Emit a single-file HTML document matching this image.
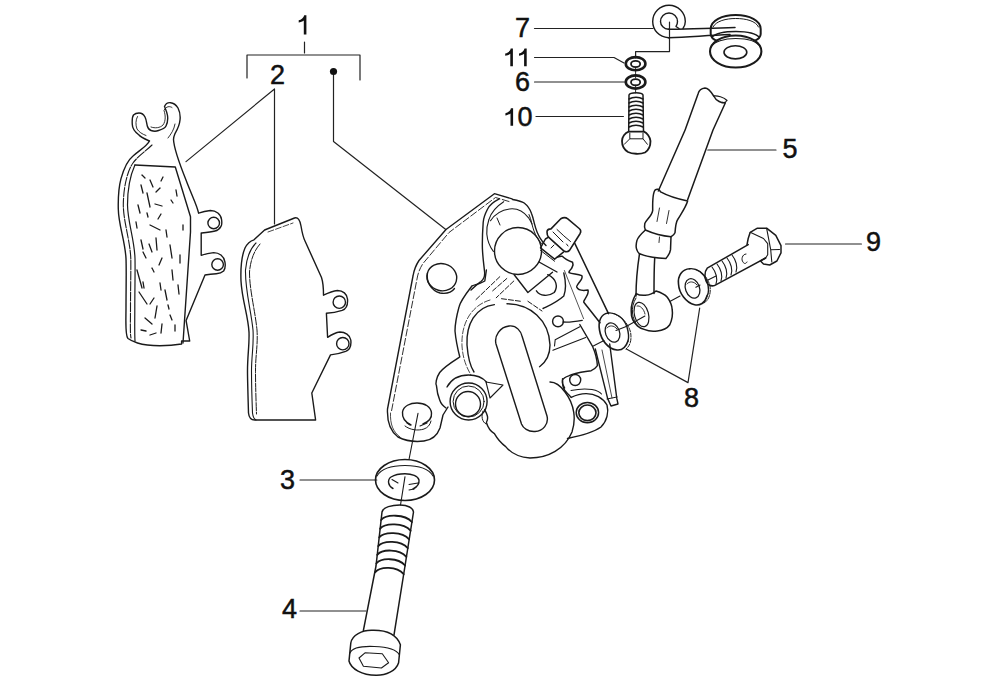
<!DOCTYPE html>
<html><head><meta charset="utf-8">
<style>
html,body{margin:0;padding:0;background:#fff;width:1000px;height:683px;overflow:hidden}
svg{display:block}
text{font-family:"Liberation Sans",sans-serif;font-size:27px;fill:#111;stroke:#111;stroke-width:0.5}
</style></head><body>
<svg width="1000" height="683" viewBox="0 0 1000 683">
<g fill="none" stroke="#222" stroke-width="1.2" stroke-linecap="round" stroke-linejoin="round">
<!-- labels group leaders -->
<path d="M247,78 V55 H360 V80"/>
<path d="M304.5,42 V53"/>
<path d="M333.5,71 V141.5 L445.8,229.5"/>
<path d="M186,161.6 L274.5,89 V224"/>
<path d="M534.5,28.5 H653"/>
<path d="M669.5,22 V51.6 H635.6 V58"/>
<path d="M534.5,57.5 L614,57.5 L624,63"/>
<path d="M534.5,82 H624.5"/>
<path d="M536,116.5 H623.4"/>
<path d="M707.8,150 H776"/>
<path d="M785.5,244 H861.4"/>
<path d="M626.4,349 L688,382.6 L699.7,308"/>
<path d="M300,480 H376.8"/>
<path d="M300,611 H366"/>
</g>

<!-- LEFT PAD -->
<g fill="none" stroke="#1a1a1a" stroke-width="1.4" stroke-linejoin="round" stroke-linecap="round">
<path d="M149.5,141 C145,139 141,137.5 139,135 C135,132 132.3,128 132.3,124.5 C132,120 132,117 133.5,115 C135,113.5 137,113 139,113 C142,113 144,115 145,117 C146.5,120 146.5,123 147.3,126 C148,128.5 149.5,130 151,130.5 C154,131.5 156,131.5 158.5,130.5 C162,129.5 165,128 166,126 C167.5,123 168,119 167.5,115.5 C167,112 165.5,109 164.5,106.5 C165.5,104 168,102.5 170.5,102.7 C174,103 176.5,105.5 178,108 C180,112 180.5,116 180,120 C179.5,126 177,130 175,133.5 C174,136 173.5,138 173.5,139.5 C174,150 180,165 186,180 C192,196 197,205 198.6,213.2 C202,212 206,211 210.4,210.5 C216,210.5 221,214 221.6,219.7 C222,223 222,225 221,226.3 C219.5,229 217.5,230.5 215,231 C211,232 206,232.5 201.2,233 L201.2,255.3 C205,254 209,253 213.7,252.6 C219,252.6 224,256 224.9,261.8 C225.5,265 225,269 223.6,271 C222,272.5 219,273.5 216.3,273.7 C212,274 208,274.5 205,275 L186.1,320.6 L189.7,341 L181.6,341 L181.6,344 C170,346 150,347 137.5,343 C133,341.5 130,340 128,338.5 C125,336 126,320 126,308 C126,290 126.5,270 126,258.5 C125,240 118.5,225 118.3,209 C118,196 119,186 121,178.6 C124,168 128,160 133,156 C140,150 147,146 149.5,141 Z"/>
<path d="M152,145 C146,151 138,156 133,163 C128,170 123.5,185 123.3,205 C123.5,222 130,240 130.8,258.5 C131,270 130.5,290 130.5,308 C130.5,322 130,334 131,338" stroke-width="1.1" stroke-dasharray="9 1.5"/>
<path d="M134.9,165 L175.3,167 L190.5,216.7 L190.5,232 L183,343"/>
<path d="M134.9,165 C130,176 127.5,190 127.5,205 C127.7,222 134.5,240 135,258.5 C135.3,270 134.8,290 134.8,308 C134.8,322 134.5,334 135,341" stroke-width="1.2"/>
<circle cx="213.7" cy="223" r="5.8"/>
<circle cx="217.6" cy="264.5" r="5.8"/>
<path d="M151,127 C155,128.5 160,128 163,125 C166,121 165.5,115 164,110.5 C166,106 170,106 172,107.5" stroke-width="0.9"/>
<path d="M137.5,116.5 C135.5,120 135.5,125 137,129 C139,132 142,134 146,135.5 M175,124 C174,130 171,134 168,138" stroke-width="0.9"/>
<g stroke-width="1.3">
<path d="M150,180 l3,7"/>
<path d="M141,185 l2,8"/>
<path d="M147,193 l3,14"/>
<path d="M156,192 l4,-4"/>
<path d="M155,204 l7,2"/>
<path d="M138,205 l2,8"/>
<path d="M161,214 l-3,5"/>
<path d="M147,213 l1,4"/>
<path d="M150,225 l10,5"/>
<path d="M166,230 l1,7"/>
<path d="M156,238 l1,12"/>
<path d="M149,244 l3,8"/>
<path d="M170,245 l2,13"/>
<path d="M143,252 l3,6"/>
<path d="M137,270 l5,18"/>
<path d="M152,268 l2,4"/>
<path d="M160,283 l1,7"/>
<path d="M139,292 l8,12"/>
<path d="M165,290 l2,10"/>
<path d="M154,298 l-4,6"/>
<path d="M145,318 l7,6"/>
<path d="M141,330 l5,1"/>
<path d="M162,324 l-1,9"/>
<path d="M170,315 l2,5"/>
<path d="M157,306 l-2,12"/>
<path d="M172,270 l1,10"/>
<path d="M176,190 l1,6"/>
<path d="M142,175 l3,3"/>
<path d="M163,177 l-2,4"/>
<path d="M180,255 l0,8"/>
<path d="M178,285 l1,9"/>
<path d="M175,325 l0,6"/>
<path d="M141,240 l2,9"/>
<path d="M162,258 l-3,7"/>
<path d="M150,335 l6,-2"/>
<path d="M168,305 l1,4"/>
<path d="M143,282 l1,6"/>
<path d="M183,225 l0,5"/>
<path d="M136,222 l1,6"/>
<path d="M171,200 l2,3"/>
</g>
</g>
<!-- MID PAD -->
<g fill="none" stroke="#1a1a1a" stroke-width="1.4" stroke-linejoin="round" stroke-linecap="round">
<path d="M294.5,218 C298,217 300,220 301,226 C302,232 303,237 305,241 L321.5,277.5 C323,282 323.5,289 323.5,295.2 C328,293 333,291 337.5,290.5 C343,290.5 347,294 347.5,299 C348,305 346,309 342.2,310.4 C337,312 331,313 326.4,313.3 L327.6,337.3 C331,335 336,332.5 339.9,332 C345,332 350,335 350.8,340 C351.5,346 349,350 345.7,351.3 C341,353 335,354.5 330.5,354.9 L311.8,393 L315.6,420 L254.7,420 C251,420 249,418 248.5,413 C248,395 247.5,380 247.5,371 C247.5,355 249.5,345 249,332 C248,315 242,300 241,281 C240.5,268 242,255 245,248 C247,244 250,241 254,239.8 L264.6,230 Z"/>
<path d="M268,232 L293,223" stroke-width="0.8" stroke-dasharray="6 2"/>
<path d="M256,243 C250,249 246.5,258 245.5,270 C245,290 251,310 253,330 C254,345 251.5,355 251.5,371 C251.5,385 252,400 252.5,413 C253,417 254,419 256,420" stroke-width="1.1"/>
<path d="M260,244 C254,251 250.5,260 249.5,272 C249.5,290 255,310 257,330 C258,345 255.5,355 255.5,371 C255.5,385 256,400 256.5,414" stroke-width="1" stroke-dasharray="8 1.5"/>
<circle cx="339.3" cy="302.2" r="6.2"/>
<circle cx="342.8" cy="343.7" r="6.2"/>
</g>

<!-- CALIPER -->
<g fill="none" stroke="#1a1a1a" stroke-width="1.4" stroke-linejoin="round" stroke-linecap="round">
<!-- bracket plate -->
<path d="M512,198.8 L494.4,193.7 L446,229.5 L419,260.5 C416,265 414,270 413,276 L387.5,409 C387,420 390,431 398,437 C406,441 416,442 424,441 C432,440 437,436 440,428 L443,415 L448,407"/>
<path d="M509,201.5 L495.5,197.5 L449,232.5 L423,263.5 C420,268 418,273 417,279 L391.5,411" stroke-width="0.9" stroke-dasharray="7 2.5"/>
<path d="M390.5,413 C390,424 393,432 400,437" stroke-width="0.8"/>
<ellipse cx="441.8" cy="277.2" rx="15" ry="13.5" transform="rotate(15 441.8 277.2)"/>
<path d="M427.5,273 C426,282 431,290.5 440,293 C447,294 452,292 454.5,288.5" stroke-width="1.3"/>
<path d="M411,425 C405,422 402,417 402.5,412 C403.5,406 410,403 417,403 C425,403 431,407 431.5,413 C432,418 428,422 423,424" />
<path d="M405,426 C410,430 418,431 424,429 C428,427.5 430,425 431,421" stroke-width="1"/>
<path d="M407,423 L410,425 M420,426 L427,423" stroke-width="1.1"/>
<!-- upper slide pin housing -->
<path d="M512.5,199.5 C518,200.5 522,201.5 524.2,203 C528,206 530,209 531.5,213.4 C533,217 533.5,220 534.4,223.7 C536,230 538,235 540.3,238.3 C542,241 544,243.5 546,245.6"/>
<path d="M529,214.5 C531.5,220 532,226 534,231 C536,236 538,240 541.5,243.5" stroke-width="1"/>
<path d="M499.3,198.8 C493,202 489,206 487.6,209 C485,214 483.5,218 483.2,222.2 C482.5,232 482.2,240 482.4,248.6 C482.8,258 484,266 484.6,272 C485,276 484,279 481,281.5 C479,283 476,285 471,290"/>
<path d="M503.7,201.7 C497,206 491,213 489,219.3 C487,225 486.5,230 486.8,234 C487.5,242 490,247 493.4,251.5" stroke-width="1.1"/>
<path d="M490.5,220.7 C495,214 502,210 509.5,209 C517,208 524,212 528.6,217.8 C530,220 531,222 532,224" stroke-width="1.1"/>
<path d="M497,218 L500,225" stroke-width="1"/>
<circle cx="518" cy="251" r="23.5"/>
<path d="M514,274.5 L527.9,292.5 L552.5,272.3 M539,262 L557,272" />
<!-- bleed nipple -->
<path d="M547,232 C547,229.5 549,229 551,228.9 L560.8,218.8 C563,217.5 566,217.5 567.8,218.8 L579.2,228.5 C581,230 581,232 580,233.7 L569.5,250.4 C568,252 566,252 564.3,251.3 L548.5,237.2 C547.5,236 547,234 547,232 Z" stroke-width="1.6"/>
<path d="M553,232 L563,242 M557,229.5 L563.5,235.5 M564,236 L570.5,241.5 M566.5,244 L568,246" stroke-width="1"/>
<path d="M548.5,237.2 L545.4,239 L540.5,247.8 L554.6,259.2 L563.4,252.2" stroke-width="1.5"/>
<path d="M540.5,250.4 L554.6,261.2 M551,248 L554,245" stroke-width="1"/>
<!-- spring zigzag -->
<path d="M557.4,257 C559,256.5 560.5,256 562.3,256.2 C564,258 567,260 572.6,262.3 C574,265 572,267 571.5,268.5 C570,270 569,271 569,272.6 C572,274 577,274 581.8,275.6 C583,278 581,280 579.7,281.8 C578,284 576.5,286 576.7,287 C578,290 582,291 588,290 C589,293 587,296 584.9,299.2 C584,300.5 583.5,301.5 583.8,302.3 L600,322.8" stroke-width="1.5"/>
<path d="M574.8,243.4 L608.5,313.6" stroke-width="1.5"/>
<path d="M564.4,270.5 L583.6,318.7" stroke-width="1" stroke="#555"/>
<!-- D shape -->
<path d="M536.4,290.8 C540,296 548,297 554.2,292.5 C558,287 557,279 547.7,274.7"/>
<path d="M563.8,273 C566,282 566,290 563.8,296 C556,303 548,306 543,308.5"/>
<circle cx="558" cy="321.4" r="5.4"/>
<path d="M563,322 C568,322.5 576,321.5 582.2,320.4"/>
<path d="M555.2,339.7 L579.8,326.8 M552.9,350.3 L585.7,337.4 M555.2,339.7 L554.5,346" stroke-width="1.1"/>
<!-- main housing -->
<path d="M486.4,270 L484.8,281 C480,284 474,285 471.9,286 C465,295 460,302 459,307 C456,318 455,325 455,331 C456,342 458,350 459.8,357 C452,362 444,367 439.7,372.5 C436,378 435.5,384 436.4,385.4 C437,392 438,396 439.7,400 C441,404 443,406 446,408"/>
<path d="M494.4,304.6 C475,307 466,325 467,345 C468,358 470,366 474,372" />
<path d="M507,303.8 C530,304 549,320 550,345 C550,355 546,362 539.6,366.7"/>
<path d="M490,300 C470,306 461,325 462,346 C463,360 467,368 471,375" stroke-width="0.8" stroke-dasharray="6 2"/>
<path d="M499.8,276.7 L475.1,300.4 M506.8,278.5 L492.7,290.8 M513.8,281 L496.2,297.8 M501.5,298.7 L520.8,301.3 M527.9,301.3 L542,311" stroke-width="1" stroke-dasharray="5 2"/>
<!-- slot -->
<path d="M496,344 C494,336 500,327 509,326 C517,325 521,332 522,336 L547,416 C549,424 543,431 535,431.5 C528,432 523,428 521.5,424 Z"/>
<!-- lower left boss -->
<circle cx="468.6" cy="401.5" r="18.5"/>
<circle cx="468.6" cy="401.5" r="15.5" stroke-width="1"/>
<circle cx="468" cy="404" r="12.5"/>
<path d="M447,387 C452,378 460,375 468.6,375 C476,375 483,378 486.4,382" />
<path d="M486,382 L503,385 L490,398 Z" stroke-width="1.1"/>
<!-- bottom round -->
<path d="M484.7,409.6 C487,414 489,418 486.4,422.5 C488,428 490,431 494.4,433.7 C498,440 502,444 505.7,446.6 C510,452 516,457 530,458 C548,458 565,449 572,432 C576,420 575,405 565,392 C560,385 555,382 550,382"/>
<path d="M483,411 C481,416 482,422 486,424" stroke-width="1"/>
<!-- right lower boss -->
<ellipse cx="587.4" cy="412.6" rx="11.2" ry="10.2" stroke-width="1.5"/>
<ellipse cx="587.4" cy="412.8" rx="8.6" ry="7.8" stroke-width="1.6"/>
<path d="M571.2,397.4 C576,395 581,393.6 586,393.6 C595,393.5 603,398 607,405 C609,412 607,421 601,427 C594,432 580,436 567.5,438.5"/>
<path d="M571,390.5 C578,389 586,388.6 592,389.5 C597,390.5 600,392 601.5,394" stroke-width="1.1"/>
<path d="M562.5,378.7 C562,384 563.5,390 567.5,393.6 C569,395 570,396 571.2,397.4" stroke-width="1.3"/>
<circle cx="575.2" cy="380" r="5.5"/>
<path d="M579.8,324.5 L592.7,346.7 C595,352 597,358 597.4,365.6 C595,369 593,370 591.2,370.7 C583,372 574,373 568.7,375.8 C565,377 563,379 562.5,380 C562,384 563,386 564.6,388"/>
<!-- banjo bolt sleeve -->
<path d="M595.3,349 L607.6,398.4 L611,406 L618,404 L616.8,398.4 L609.7,344"/>
<path d="M602,350 L612,398" stroke-width="0.8"/>
<path d="M607,399 L617,397" stroke-width="1"/>
<!-- washer 8a -->
<path d="M608,313 C601,314 598,321 599.5,330 C601,340 608,349 617,350 C622,350.5 626,347 628,341" stroke-width="1.6"/>
<path d="M608,313 C616,312 624,318 627,327 C629,334 629,338 628,341" stroke-width="1.4"/>
<path d="M613,313.5 C621,316 628,323 630.5,332 C632,340 630,346 626,349" stroke-width="1" stroke-dasharray="4 1.5"/>
<ellipse cx="612.5" cy="332.5" rx="7" ry="10" transform="rotate(-20 612.5 332.5)" stroke-width="1.3"/>
<path d="M607,328 C609,325 614,325 617,329" stroke-width="0.9"/>
<path d="M593.3,346 L604,340.5 M616,330.5 L626.2,326.5" stroke-width="1.1"/>
</g>

<!-- TOP RIGHT PARTS -->
<g fill="none" stroke="#1a1a1a" stroke-width="1.5" stroke-linejoin="round" stroke-linecap="round">
<!-- ring terminal 7 -->
<path d="M668.5,37.7 C659,37 652.7,30 652.7,21.5 C652.7,12.5 660,5.2 669,5.2 C678,5.2 685.3,12.5 685.3,21.5 C685.3,24 684.5,26.5 683,28.5" stroke-width="1.4"/>
<path d="M668.5,29.3 C664,29 660.5,25.5 660.5,21.5 C660.5,16.8 664.3,13 669,13 C673.7,13 677.5,16.8 677.5,21.5 C677.5,23.5 677,25 676,26.5 L679,28.5" stroke-width="1.4"/>
<!-- grommet -->
<path d="M710.7,29 C710.7,20.5 722,15 735.7,15 C749.5,15 760.7,20.5 760.7,29 L760.7,34 C760.7,40 750,44 735.7,44 C721,44 710.7,40 710.7,34 Z" fill="#fff" stroke-width="2"/>
<path d="M713,27 C716,21 726,18.5 735.7,18.5 C746,18.5 756,21 758.5,27" stroke-width="1"/>
<path d="M668.5,29.3 C685,29.5 700,28.5 735,27.5 M668.5,37.7 C690,37 705,35.5 730,34.5" stroke-width="1.5"/>
<path d="M712,37 C716,33 726,31.5 736,31.5 C748,31.5 756,33.5 759.5,37.5" stroke-width="1.3"/>
<ellipse cx="735.7" cy="51.5" rx="25.7" ry="16" fill="#fff" stroke-width="2.1"/>
<path d="M711,47 C714,41.5 724,38.5 735.7,38.5 C748,38.5 757,41.5 760.5,47" stroke-width="1.1"/>
<ellipse cx="735.4" cy="52.3" rx="11.4" ry="6.6" stroke-width="1.6"/>
<!-- washers 11 & 6 -->
<ellipse cx="635.6" cy="63.7" rx="9.8" ry="6.6" stroke-width="2.6"/>
<ellipse cx="635.6" cy="64" rx="4.6" ry="3.1" stroke-width="1.8"/>
<ellipse cx="635.6" cy="82" rx="9.8" ry="6.6" stroke-width="2.6"/>
<ellipse cx="635.6" cy="82.3" rx="4.6" ry="3.1" stroke-width="1.8"/>
<path d="M635.6,67 V78 M635.6,85 V93" stroke-width="0.9"/>
<!-- bolt 10 -->
<path d="M629,95 C630,92 642,92 643,95 L643.5,131.5 M629,95 L628.7,131.5"/>
<path d="M629,99 C633,96.5 639,96.5 643,99 M629,103 C633,100.5 639,100.5 643,103 M629,107 C633,104.5 639,104.5 643,107 M629,111 C633,108.5 639,108.5 643,111 M629,115 C633,112.5 639,112.5 643,115 M629,119 C633,116.5 639,116.5 643,119 M629,123 C633,120.5 639,120.5 643,123 M629,127 C633,124.5 639,124.5 643,127" stroke-width="1.5"/>
<path d="M628.7,131.7 C625,133 622,137 622,141 C622,146 624,149.5 628,152 C632,154 640,154.5 645,152.5 C649,150 650.5,146 650.5,141 C650,137 647,133 644,131.7 Z" stroke-width="1.8"/>
<path d="M629.8,133 V138.8 H643 V133 M629.8,138.8 L624.3,144.3 M643,138.8 L647.4,144.3" stroke-width="1"/>
<!-- hose 5 -->
<path d="M685.1,130 L698.3,93.2 C699,90 702,88.5 705,88 C708,88 710,90 713.7,96 C716,101 722,103.5 725.4,102.7 L713,130 L687.6,199.8 M685.1,130 L658.3,191"/>
<path d="M713.7,96 C717,95.5 724,97 727,100.5 C726,102 724.5,103 722,102.5" stroke-width="1.3"/>
<!-- ferrules -->
<path d="M660.6,191.9 C668,196 678,199 687.6,201 M655.3,189.9 C657,188.5 659,189 660.6,191.9 M655.3,189.9 C653,192 652.5,200 652.7,210.3 C652,216 646,220 644.8,223.5 C644,227 645,229 645.4,230 M687.6,201 C686,207 681,214 677.7,219.5 C676,222 675.5,226 675,232.7 C674,235 672,236 671,236.7 M645.4,230 C652,233 662,236 671,236.7"/>
<path d="M659.5,208 L657,221.5 M669,210.5 L666.5,223.5 M659.5,237 L659,242.5" stroke-width="0.9"/>
<path d="M645.4,230 C641,234 638,237 636.9,240.6 C636,244 636,248 636.9,249.9 C637.5,252 638.5,253 639.5,253.8 C645,256 652,258 665.9,258.4 C668,256 670,253 670.5,249.9 L671,236.7"/>
<!-- bent pipe -->
<path d="M639.5,253.8 C637,270 636,282 636,296 M654.7,258 C654,270 654,282 654,293.4"/>
<!-- banjo -->
<path d="M636.2,293.6 C640,296 650,296.5 656,291 C661,292.5 665,294.5 667.3,297.3 C670,301 672,305 672.2,309.7 C673,315 672,320 669.8,324.7 C667,328.5 662,330.5 657.3,330.9 C652,331.5 648,331 644.9,329.6 C641,328.5 639,327.5 637.4,325.9 C633,322 631,317 631.2,311 C631,304 633,299 636.2,293.6 Z" stroke-width="1.5"/>
<path d="M636,298 C633,303 632,308 632.5,313 C633,318 635,323 637.5,325.5" stroke-width="1"/>
<ellipse cx="641.5" cy="314.5" rx="7" ry="12.5" transform="rotate(-15 641.5 314.5)" stroke-width="1.2"/>
<path d="M637,306 C640,305 644,309 645,314" stroke-width="0.9"/>
<!-- washer 8b -->
<path d="M689.7,268.7 C682,269 677.5,276 678.5,284 C679,293 686,303 694.6,304.8 C700,306 705,303 707,296" stroke-width="1.6"/>
<path d="M689.7,268.7 C697,268 704,273 707,281 C709,288 709,293 707,296" stroke-width="1.4"/>
<path d="M695,269.5 C702,271 708,278 710,286 C711,294 709,300 704,303" stroke-width="1" stroke-dasharray="4 1.5"/>
<ellipse cx="692.5" cy="288.4" rx="7" ry="10" transform="rotate(-20 692.5 288.4)" stroke-width="1.3"/>
<path d="M687,284 C689,281 694,281 697,285" stroke-width="0.9"/>
<path d="M669.8,301.6 L680,296 M695.9,287.3 L700,285 M708,280 L716,276" stroke-width="1.1"/>
<path d="M644.9,316 L626.2,326.5" stroke-width="1.1"/>
<!-- bolt 9 -->
<path d="M748.2,244.6 L707.2,268.2 C704,272 704,281 709,285 C711,286 713,286 714.4,285.6 L765.6,258"/>
<path d="M712,267 C716,272 718,279 716,284 M717,264 C721,269 723,276 721,281 M722,261 C726,266 728,273 726,278 M727,258 C731,263 733,270 731,275 M732,255 C736,260 738,267 736,272" stroke-width="1.1"/>
<path d="M746,254 C742,254 741,260 743,262 C744,264 746,264 747,262" stroke-width="1"/>
<path d="M747,244.6 L748.2,238.5 L750.2,232.3 L757.4,228.2 L766.6,228.2 L775.8,235.4 L781,245.6 L781,252.8 L776.9,261 L769.7,265 L763.5,264 L760.5,261 L765.6,258" stroke-width="1.5"/>
<path d="M750.2,232.3 L763.5,238.5 L767.7,243.6 L767.7,254.8 L765.6,258 M766.6,228.2 L770.7,249.7 L779.5,249.5 M770.7,249.7 L771.8,262" stroke-width="1.1"/>
</g>
<!-- WASHER 3 & BOLT 4 -->
<g fill="none" stroke="#1a1a1a" stroke-width="1.4" stroke-linejoin="round" stroke-linecap="round">
<ellipse cx="405" cy="480" rx="29.5" ry="20.5" stroke-width="1.6"/>
<path d="M377,476 C381,469 392,465.5 405,465.5 C419,465.5 429,469 433,476" stroke-width="1.1"/>
<path d="M393,488.5 C388,486 387,480 391,477 C395,474.5 400,473.7 405,473.7 C412,473.7 418,476 419,480 C419.5,484 417,487 413,489" stroke-width="1.4"/>
<path d="M392,479.5 L398,483 M409,484.5 L418,483 M409,490 L414,489" stroke-width="1.1"/>
<path d="M418,413.4 L409,459.5 M405,476.7 L400.5,505" stroke-width="1.1"/>
<!-- bolt 4 -->
<path d="M382,512 C383,507 392,505 400,505 C408,505 413,508 413.5,512 L405,566 L394,634.8 M382,512 L376,566 L363.4,630.3" stroke-width="1.5"/>
<path d="M381.1,520.0 C386.1,514.0 404.9,514.0 411.9,522.0 M380.1,528.7 C385.1,522.7 403.6,522.7 410.6,530.7 M379.2,537.4 C384.2,531.4 402.2,531.4 409.2,539.4 M378.2,546.1 C383.2,540.1 400.8,540.1 407.8,548.1 M377.2,554.8 C382.2,548.8 399.4,548.8 406.4,556.8 M376.3,563.5 C381.3,557.5 398.1,557.5 405.1,565.5 M375.3,572.2 C380.3,566.2 396.7,566.2 403.7,574.2" stroke-width="1.8"/>
<path d="M350.8,643 C352,635 362,630 372.4,630.3 C385,630 396,633 400.4,644.7 L398.6,662.7 C396,671 386,675.5 376,675.3 C362,675 351,669 349,661 Z" stroke-width="1.5"/>
<path d="M350,653 C352,648 362,646 374.2,646.5 C388,647 397,650 399.5,655" stroke-width="1.1"/>
<path d="M359,658 L365,652.8 L382.3,653.7 L388.6,662.7 L381.4,668 L363.4,666.3 Z" stroke-width="1.1"/>
</g>
<g fill="#111" stroke="none">
<circle cx="333.5" cy="71.5" r="3.6"/>
<path d="M306.4,15.3 L306.4,34.6 L303.8,34.6 L303.8,20.5 C302.6,21.6 300.3,22.3 298.7,22.5 L298.7,20.3 C301.1,19.9 303.8,17.9 304.2,15.3 Z"/>
<path d="M512.9,48.6 L512.9,66.2 L510.3,66.2 L510.3,53.8 C509.1,54.9 506.8,55.6 505.2,55.8 L505.2,53.6 C507.6,53.2 510.3,51.2 510.7,48.6 Z"/>
<path d="M526.7,48.6 L526.7,66.2 L524.1,66.2 L524.1,53.8 C522.9,54.9 520.6,55.6 519.0,55.8 L519.0,53.6 C521.4,53.2 524.1,51.2 524.5,48.6 Z"/>
<path d="M513.1,108.2 L513.1,125.8 L510.5,125.8 L510.5,113.4 C509.3,114.5 507.0,115.2 505.4,115.4 L505.4,113.2 C507.8,112.8 510.5,110.8 510.9,108.2 Z"/>
<text x="270" y="83.5">2</text>
<text x="515" y="36.5">7</text>
<text x="515" y="91">6</text>
<text x="517.5" y="126.3">0</text>
<text x="782.5" y="158">5</text>
<text x="866" y="251">9</text>
<text x="684" y="407">8</text>
<text x="280" y="489">3</text>
<text x="282" y="617.5">4</text>
</g>
</svg>
</body></html>
